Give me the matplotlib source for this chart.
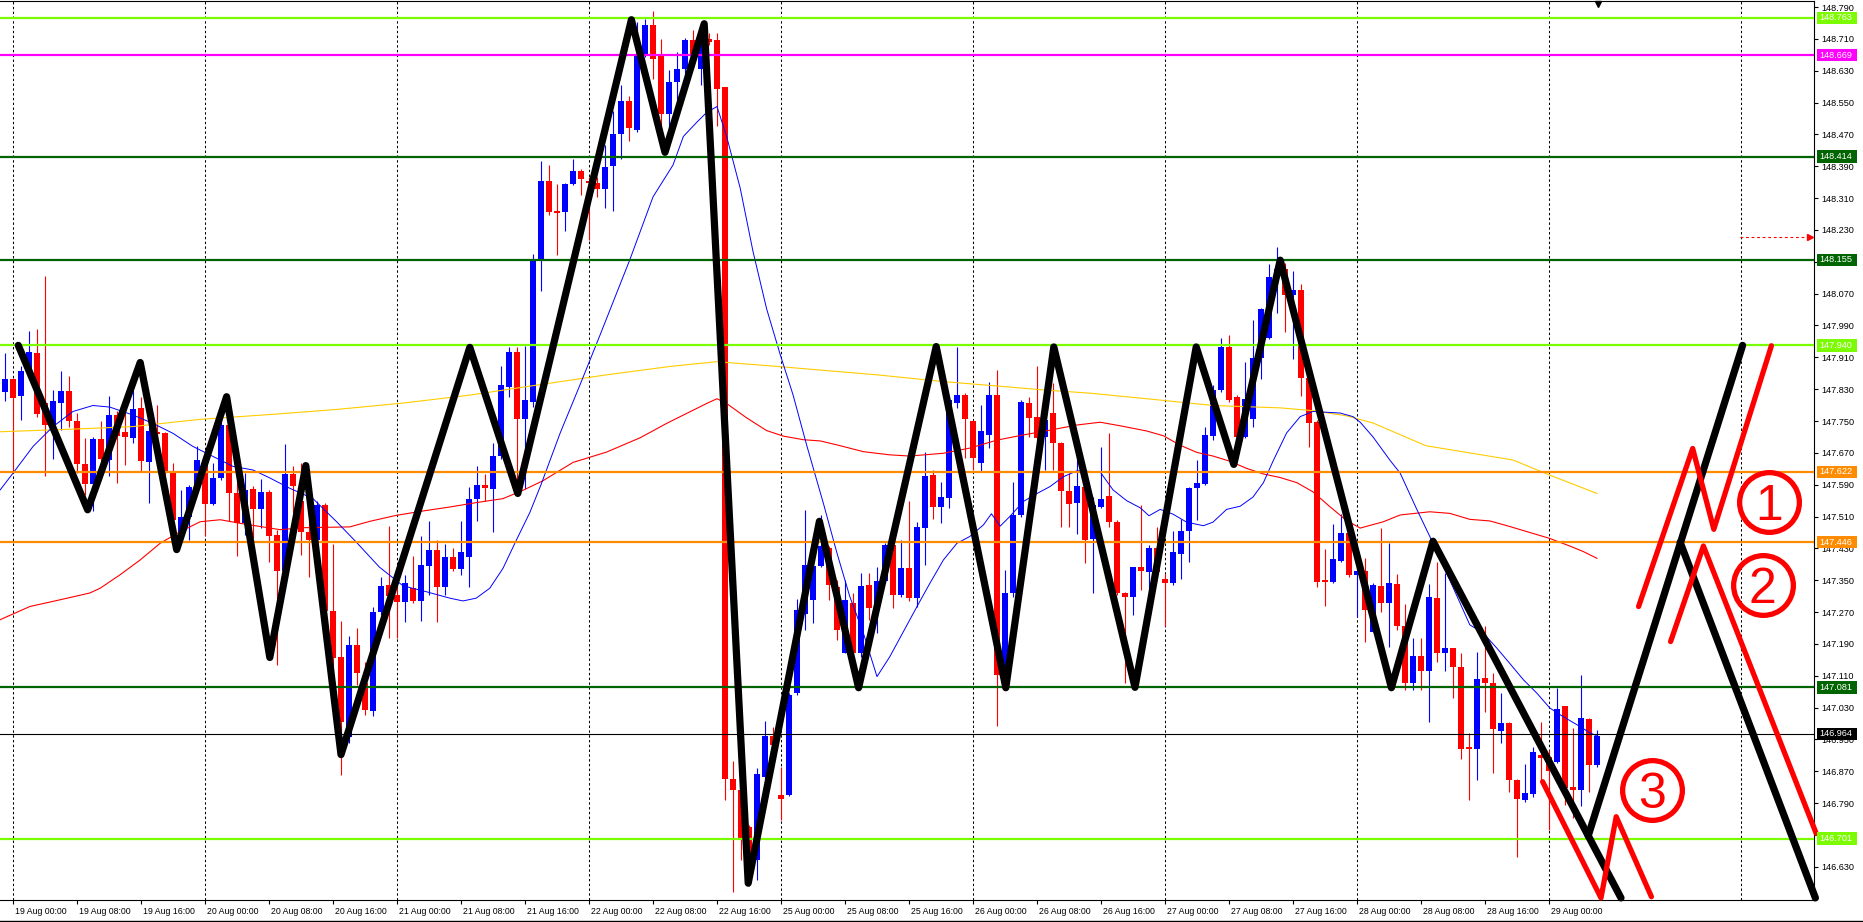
import matplotlib
matplotlib.use("Agg")
import matplotlib.pyplot as plt
import matplotlib.transforms as mtransforms
from matplotlib.patches import Rectangle
from matplotlib.lines import Line2D

# ---------------- data ----------------
# hourly candles, bar index 0 = 19 Aug 00:00 (weekend gap skipped)
bar_index = list(range(-1, 199))
opens = [147.822,147.856,147.814,147.870,147.920,147.795,147.739,147.796,147.826,147.750,
         147.642,147.592,147.705,147.652,147.765,147.723,147.708,147.783,147.648,147.722,
         147.719,147.619,147.468,147.508,147.585,147.652,147.542,147.606,147.740,147.569,
         147.493,147.579,147.528,147.571,147.464,147.372,147.618,147.550,147.472,147.451,
         147.539,147.274,147.157,146.956,147.187,147.092,147.021,147.269,147.338,147.312,
         147.295,147.331,147.297,147.385,147.425,147.334,147.409,147.378,147.409,147.555,
         147.589,147.578,147.662,147.835,147.923,147.754,147.797,148.154,148.352,148.277,
         148.274,148.346,148.378,148.354,148.349,148.332,148.390,148.472,148.554,148.482,
         148.667,148.746,148.670,148.522,148.602,148.635,148.706,148.635,148.710,148.706,
         148.590,146.850,146.824,146.730,146.648,146.857,146.958,146.811,146.811,147.066,
         147.265,147.300,147.387,147.432,147.334,147.167,147.292,147.167,147.338,147.284,
         147.348,147.439,147.312,147.382,147.305,147.481,147.614,147.535,147.556,147.796,
         147.815,147.750,147.644,147.715,147.815,147.112,147.317,147.514,147.796,147.759,
         147.711,147.769,147.696,147.574,147.543,147.585,147.453,147.534,147.562,147.496,
         147.318,147.308,147.384,147.370,147.431,147.353,147.342,147.415,147.474,147.581,
         147.592,147.712,147.828,147.937,147.810,147.709,147.756,147.909,147.958,148.111,
         148.133,148.066,148.079,147.857,147.747,147.350,147.345,147.399,147.469,147.362,
         147.373,147.221,147.336,147.294,147.341,147.235,147.093,147.160,147.123,147.306,
         147.167,147.179,147.132,146.932,146.926,147.104,147.091,146.972,146.991,146.847,
         146.798,146.813,146.910,146.905,146.893,147.033,146.830,146.822,147.002,146.885]
highs = [147.920,147.857,147.887,147.975,147.981,148.115,147.828,147.876,147.863,147.769,
         147.707,147.711,147.750,147.813,147.774,147.769,147.828,147.811,147.753,147.790,
         147.723,147.644,147.577,147.590,147.687,147.661,147.644,147.761,147.744,147.619,
         147.619,147.588,147.605,147.577,147.476,147.693,147.638,147.644,147.498,147.550,
         147.545,147.440,147.248,147.211,147.229,147.144,147.284,147.357,147.487,147.362,
         147.362,147.411,147.461,147.500,147.451,147.440,147.430,147.500,147.583,147.637,
         147.618,147.696,147.888,147.935,147.935,147.938,148.169,148.404,148.393,148.346,
         148.349,148.407,148.384,148.364,148.364,148.443,148.530,148.594,148.566,148.753,
         148.760,148.779,148.710,148.631,148.678,148.713,148.732,148.739,148.724,148.724,
         148.590,146.896,146.828,146.734,146.879,146.997,146.982,146.881,147.066,147.304,
         147.527,147.392,147.514,147.435,147.351,147.351,147.317,147.368,147.368,147.384,
         147.443,147.443,147.451,147.548,147.497,147.673,147.627,147.596,147.811,147.937,
         147.820,147.753,147.790,147.847,147.878,147.376,147.598,147.803,147.810,147.889,
         147.786,147.845,147.698,147.619,147.661,147.589,147.560,147.684,147.720,147.501,
         147.320,147.384,147.538,147.438,147.484,147.366,147.474,147.505,147.583,147.653,
         147.736,147.841,147.958,147.967,147.815,147.897,148.003,148.034,148.145,148.187,
         148.146,148.128,148.093,147.864,147.752,147.429,147.492,147.516,147.474,147.380,
         147.405,147.342,147.481,147.443,147.366,147.290,147.206,147.206,147.340,147.397,
         147.368,147.180,147.167,146.966,147.171,147.234,147.116,147.066,146.995,146.850,
         146.889,146.932,146.995,146.924,147.080,147.034,146.978,147.112,147.003,146.974]
lows = [147.801,147.619,147.753,147.862,147.761,147.612,147.655,147.728,147.736,147.619,
        147.564,147.525,147.644,147.612,147.594,147.640,147.694,147.625,147.545,147.703,
        147.615,147.485,147.451,147.450,147.577,147.462,147.539,147.602,147.498,147.410,
        147.464,147.456,147.481,147.395,147.138,147.352,147.519,147.414,147.359,147.440,
        147.258,147.102,146.862,146.941,147.086,147.011,147.010,147.263,147.206,147.206,
        147.246,147.292,147.248,147.313,147.246,147.313,147.373,147.364,147.334,147.500,
        147.550,147.472,147.654,147.810,147.571,147.580,147.784,148.076,148.268,148.166,
        148.227,148.342,148.318,148.205,148.313,148.284,148.277,148.407,148.453,148.476,
        148.664,148.609,148.479,148.479,148.522,148.594,148.638,148.594,148.695,148.491,
        146.799,146.566,146.648,146.583,146.597,146.850,146.922,146.749,146.807,147.063,
        147.225,147.242,147.384,147.301,147.200,147.167,147.167,147.158,147.250,147.217,
        147.342,147.280,147.309,147.299,147.284,147.389,147.504,147.493,147.531,147.782,
        147.656,147.627,147.623,147.681,146.983,147.083,147.309,147.510,147.711,147.694,
        147.627,147.627,147.485,147.485,147.466,147.394,147.319,147.532,147.483,147.312,
        147.092,147.263,147.326,147.317,147.362,147.234,147.339,147.353,147.395,147.501,
        147.590,147.702,147.824,147.797,147.707,147.707,147.734,147.855,147.955,148.021,
        147.973,147.906,147.813,147.684,147.333,147.285,147.344,147.397,147.357,147.258,
        147.196,147.221,147.269,147.183,147.224,147.075,147.075,147.075,146.993,147.144,
        147.121,147.055,146.901,146.798,146.847,147.018,146.865,146.941,146.819,146.654,
        146.794,146.805,146.849,146.723,146.890,146.786,146.752,146.782,146.819,146.882]
closes = [147.856,147.807,147.876,147.923,147.768,147.739,147.800,147.826,147.750,147.643,
          147.592,147.705,147.655,147.765,147.713,147.711,147.780,147.650,147.725,147.718,
          147.619,147.502,147.508,147.585,147.652,147.542,147.606,147.740,147.569,147.493,
          147.577,147.528,147.571,147.460,147.372,147.618,147.586,147.472,147.451,147.539,
          147.274,147.154,146.995,147.187,147.116,147.024,147.271,147.336,147.310,147.295,
          147.342,147.297,147.388,147.425,147.334,147.409,147.378,147.420,147.555,147.589,
          147.581,147.662,147.840,147.923,147.754,147.802,148.154,148.352,148.274,148.273,
          148.345,148.378,148.357,148.347,148.332,148.388,148.472,148.554,148.486,148.670,
          148.746,148.659,148.522,148.602,148.635,148.706,148.667,148.710,148.703,148.584,
          146.850,146.824,146.698,146.655,146.864,146.958,146.936,146.800,147.062,147.275,
          147.388,147.385,147.437,147.337,147.225,147.301,147.167,147.336,147.280,147.348,
          147.439,147.312,147.382,147.305,147.485,147.613,147.535,147.560,147.803,147.815,
          147.754,147.656,147.725,147.815,147.111,147.317,147.514,147.799,147.758,147.708,
          147.753,147.694,147.573,147.541,147.588,147.451,147.538,147.554,147.496,147.317,
          147.308,147.384,147.372,147.431,147.370,147.342,147.420,147.474,147.581,147.595,
          147.716,147.828,147.937,147.803,147.711,147.806,147.909,148.032,148.112,148.133,
          148.066,148.079,147.857,147.745,147.345,147.345,147.404,147.469,147.362,147.372,
          147.276,147.338,147.294,147.342,147.234,147.093,147.160,147.123,147.309,147.167,
          147.179,147.131,146.926,146.926,147.101,147.091,146.976,146.991,146.847,146.800,
          146.815,146.918,146.903,146.870,147.027,146.828,146.824,147.005,146.885,146.960]

# moving averages (bar index, price)
ma_blue_x = [-1.6,0,2.5,5,7.5,10,12.1,15,17.5,20,22.5,25,27.5,30,32.1,34.6,37.5,40.4,42.9,45.8,
             48.75,51.7,54.6,56.25,57.9,59.6,61.25,62.9,64.6,66.0,68.4,70.9,73.4,77.1,80,82.5,
             83.8,85.5,86.7,88,89.2,90.9,92.5,94.2,95.9,97.5,99.2,101.3,103,104.6,106.3,108,
             109.6,111.3,113,114.6,116.3,118,119.6,121.3,122.3,123.4,124.6,126.3,128,129.6,
             131.3,133,135.9,137.5,139.2,140.9,142,143.4,145,146.7,148.8,150,151.7,153.4,155,
             156.3,157.5,159.2,160.9,162.5,164.2,165.9,167.5,168.4,170,172.1,173.4,175.5,177.1,
             179.2,180.9,182.1,183.8,185.5,187.1,188.8,190.5,192.1,193.8,195.5,197.1,198.2]
ma_blue_y = [147.577,147.619,147.686,147.736,147.774,147.789,147.785,147.765,147.744,147.719,
             147.686,147.661,147.636,147.627,147.607,147.581,147.555,147.498,147.446,147.383,
             147.336,147.321,147.305,147.298,147.305,147.330,147.380,147.450,147.520,147.590,
             147.720,147.842,147.967,148.155,148.313,148.393,148.465,148.501,148.525,148.540,
             148.465,148.335,148.176,148.032,147.917,147.816,147.690,147.543,147.418,147.309,
             147.217,147.108,147.158,147.221,147.284,147.342,147.401,147.443,147.460,147.489,
             147.517,147.486,147.510,147.548,147.568,147.585,147.610,147.625,147.622,147.577,
             147.550,147.532,147.512,147.528,147.516,147.496,147.487,147.496,147.528,147.536,
             147.559,147.595,147.649,147.720,147.761,147.774,147.772,147.770,147.761,147.747,
             147.710,147.652,147.619,147.527,147.460,147.368,147.292,147.238,147.217,147.179,
             147.141,147.100,147.066,147.029,147.007,146.987,146.967,146.957]
ma_red_x = [-1.6,2.1,5.9,9.6,10.9,13.4,15.9,18.4,20.9,23.4,25.9,28.4,30.9,33.4,36.25,42.1,44.6,
            47.9,51.25,54.6,57.9,61.25,63.75,66.25,70,74.2,78.4,81.7,84.6,86.7,88,89.2,91.7,
            94.2,96.3,98.8,100.9,103,106.3,109.6,112.1,116.3,119.6,123,126.3,129.6,133,135.9,
            138.4,141.7,143.8,145.9,148,150,152.1,154.2,156.3,158.4,160.5,162.5,164.6,166.7,
            168.4,171.3,173.4,177.1,179.6,182.1,184.6,187.1,189.6,192.1,194.6,196.3,198]
ma_red_y = [147.251,147.284,147.301,147.318,147.330,147.364,147.401,147.443,147.472,147.497,
            147.502,147.493,147.485,147.477,147.482,147.484,147.498,147.513,147.524,147.534,
            147.545,147.555,147.576,147.600,147.646,147.672,147.708,147.744,147.773,147.794,
            147.806,147.794,147.758,147.726,147.712,147.703,147.700,147.690,147.673,147.665,
            147.662,147.669,147.682,147.702,147.715,147.727,147.740,147.747,147.738,147.725,
            147.713,147.689,147.671,147.662,147.649,147.631,147.617,147.608,147.595,147.572,
            147.535,147.500,147.481,147.497,147.514,147.522,147.518,147.503,147.499,147.485,
            147.470,147.455,147.436,147.422,147.405]
ma_gold_x = [-1.6,6.7,15,23.3,33.3,40.4,48.75,57.1,65.4,74.2,82.5,88,95,100.9,108,116.3,123,
             128.8,134.6,141.7,150,158.4,162.5,166.7,170,176.6,187.5,192.1,198]
ma_gold_y = [147.723,147.729,147.736,147.754,147.768,147.779,147.795,147.815,147.840,147.866,
             147.888,147.899,147.888,147.878,147.866,147.849,147.838,147.828,147.820,147.806,
             147.789,147.783,147.776,147.763,147.745,147.688,147.652,147.614,147.568]

# horizontal levels
levels = [148.763, 148.669, 148.414, 148.155, 147.940, 147.622, 147.446, 147.081, 146.701]
level_labels = ["148.763", "148.669", "148.414", "148.155", "147.940", "147.622", "147.446", "147.081", "146.701"]
level_colors = ["#7CFC00", "#FF00FF", "#006400", "#006400", "#7CFC00", "#FF8C00", "#FF8C00", "#006400", "#7CFC00"]
bid_price = 146.964
bid_label = "146.964"

# black zigzag (bar index, price)
zz_x = [0.66, 9.33, 15.9, 20.46, 26.7, 32.1, 36.6, 41.0, 57.1, 63.1, 77.3, 81.5, 86.4, 91.9,
        100.8, 105.7, 115.4, 124.1, 130.1, 140.25, 147.9, 152.6, 158.4, 172.3, 177.5, 201.0]
zz_y = [147.940, 147.527, 147.897, 147.427, 147.811, 147.156, 147.638, 146.912, 147.935, 147.568,
        148.758, 148.425, 148.748, 146.589, 147.498, 147.080, 147.937, 147.080, 147.936, 147.081,
        147.936, 147.641, 148.154, 147.080, 147.448, 146.552]
proj_up_x = [196.9, 216.2]
proj_up_y = [146.708, 147.940]
proj_dn_x = [208.4, 225.3]
proj_dn_y = [147.445, 146.552]

# red scenario sketches
red1_x = [203.2, 209.96, 212.6, 219.8]
red1_y = [147.284, 147.681, 147.478, 147.939]
red2_x = [207.2, 211.3, 225.4]
red2_y = [147.196, 147.436, 146.714]
red3_x = [191.2, 198.5, 200.4, 204.8]
red3_y = [146.844, 146.552, 146.756, 146.555]
circ_x = [219.5, 218.7, 204.9]
circ_y = [147.547, 147.338, 146.823]
circ_txt = ["1", "2", "3"]

arrow_x = [215.9, 224.6]
arrow_y = 148.212

# axes ticks
yticks = [round(146.630 + 0.08 * i, 3) for i in range(28)]
xtick_pos = list(range(0, 193, 8))
days = ["19", "20", "21", "22", "25", "26", "27", "28"]
xtick_labels = []
for d in days:
    for hh in ["00:00", "08:00", "16:00"]:
        xtick_labels.append(f"{d} Aug {hh}")
xtick_labels.append("29 Aug 00:00")
grid_pos = list(range(0, 217, 24))

# ---------------- figure ----------------
W, H = 1863, 922
fig = plt.figure(figsize=(W / 100, H / 100), dpi=100)
fig.patch.set_facecolor("white")
ax = fig.add_axes([0, 22 / H, 1814 / W, (H - 1 - 22) / H])
px = 0.002512  # price per pixel
ax.set_ylim(148.790 - 893 * px, 148.790 + 6 * px)
ax.set_xlim(-13 / 8, (1814 - 13) / 8)

FONT = "Liberation Sans"

# grid
for g in grid_pos:
    ax.axvline(g, color="black", lw=0.75, ls=(0, (2.3, 2.3)), zorder=1)

# candles
for k, o, h, l, c in zip(bar_index, opens, highs, lows, closes):
    col = "#0000FF" if c >= o else "#FF0000"
    ax.vlines(k, l, h, color=col, lw=0.8, zorder=2)
    bot = min(o, c)
    hgt = max(abs(c - o), 0.0028)
    ax.bar(k, hgt, width=0.64, bottom=bot, color=col, linewidth=0, zorder=2.1)

# moving averages
ax.plot(ma_gold_x, ma_gold_y, color="#FFCC00", lw=0.8, zorder=3)
ax.plot(ma_red_x, ma_red_y, color="#FF0000", lw=0.8, zorder=3)
ax.plot(ma_blue_x, ma_blue_y, color="#0000FF", lw=0.7, zorder=3)

# horizontal lines
for lv, colr in zip(levels, level_colors):
    ax.axhline(lv, color=colr, lw=1.6, zorder=4)
ax.axhline(bid_price, color="black", lw=0.8, zorder=4)

# zigzag
lkw = dict(solid_capstyle="round", solid_joinstyle="round", clip_on=False)
ax.plot(zz_x, zz_y, color="black", lw=5.2, zorder=6, **lkw)
ax.plot(proj_up_x, proj_up_y, color="black", lw=5.2, zorder=6, **lkw)
ax.plot(proj_dn_x, proj_dn_y, color="black", lw=5.2, zorder=6, **lkw)

# red sketches
for xs, ys in [(red1_x, red1_y), (red2_x, red2_y), (red3_x, red3_y)]:
    ax.plot(xs, ys, color="#FF0000", lw=3.8, zorder=7, **lkw)
for cx, cy, t in zip(circ_x, circ_y, circ_txt):
    ax.plot([cx], [cy], marker="o", ms=43, mfc="none", mec="#FF0000", mew=3.8, zorder=7, clip_on=False)
    ax.text(cx, cy, t, color="#FF0000", fontsize=36, family=FONT, ha="center", va="center_baseline", zorder=8)

# red dashed arrow
ax.plot(arrow_x, [arrow_y, arrow_y], color="#FF0000", lw=0.8, ls=(0, (2.5, 2.5)), zorder=5)
ax.plot([arrow_x[1]], [arrow_y], marker=">", ms=4.5, color="#FF0000", zorder=5, clip_on=False)

# spines / ticks
for s in ax.spines.values():
    s.set_color("black")
    s.set_linewidth(0.8)
ax.spines["left"].set_visible(False)
ax.yaxis.tick_right()
ax.set_yticks(yticks)
ax.set_yticklabels([f"{v:.3f}" for v in yticks], fontsize=6.6, family=FONT)
ax.tick_params(axis="y", direction="out", length=3, width=0.8, pad=2, colors="black")
ax.set_xticks(xtick_pos)
ax.set_xticklabels(xtick_labels, fontsize=6.3, family=FONT, ha="left")
ax.tick_params(axis="x", direction="out", length=3, width=0.8, pad=2)
for lab in ax.get_xticklabels():
    lab.set_transform(lab.get_transform() + mtransforms.ScaledTranslation(2 / 100, 0, fig.dpi_scale_trans))

# level labels boxes
blend = mtransforms.blended_transform_factory(fig.transFigure, ax.transData)
for lv, lab, colr in list(zip(levels, level_labels, level_colors)) + [(bid_price, bid_label, "#000000")]:
    r = Rectangle((1816.5 / W, lv - 6.2 * px), 40 / W, 12.4 * px, transform=blend,
                  facecolor=colr, edgecolor="none", clip_on=False, zorder=10)
    ax.add_patch(r)
    ax.text(1819 / W, lv, lab, transform=blend, color="white", fontsize=6.6, family=FONT,
            ha="left", va="center", clip_on=False, zorder=11)

# top marker (chart shift)
ax.plot([198.1], [148.790 + 3.5 * px], marker="v", ms=5, color="black", zorder=9, clip_on=False)

# bottom window border
fig.add_artist(Line2D([0, 1], [1.2 / H, 1.2 / H], color="black", lw=1.0, transform=fig.transFigure))

fig.savefig("out.png", dpi=100)
